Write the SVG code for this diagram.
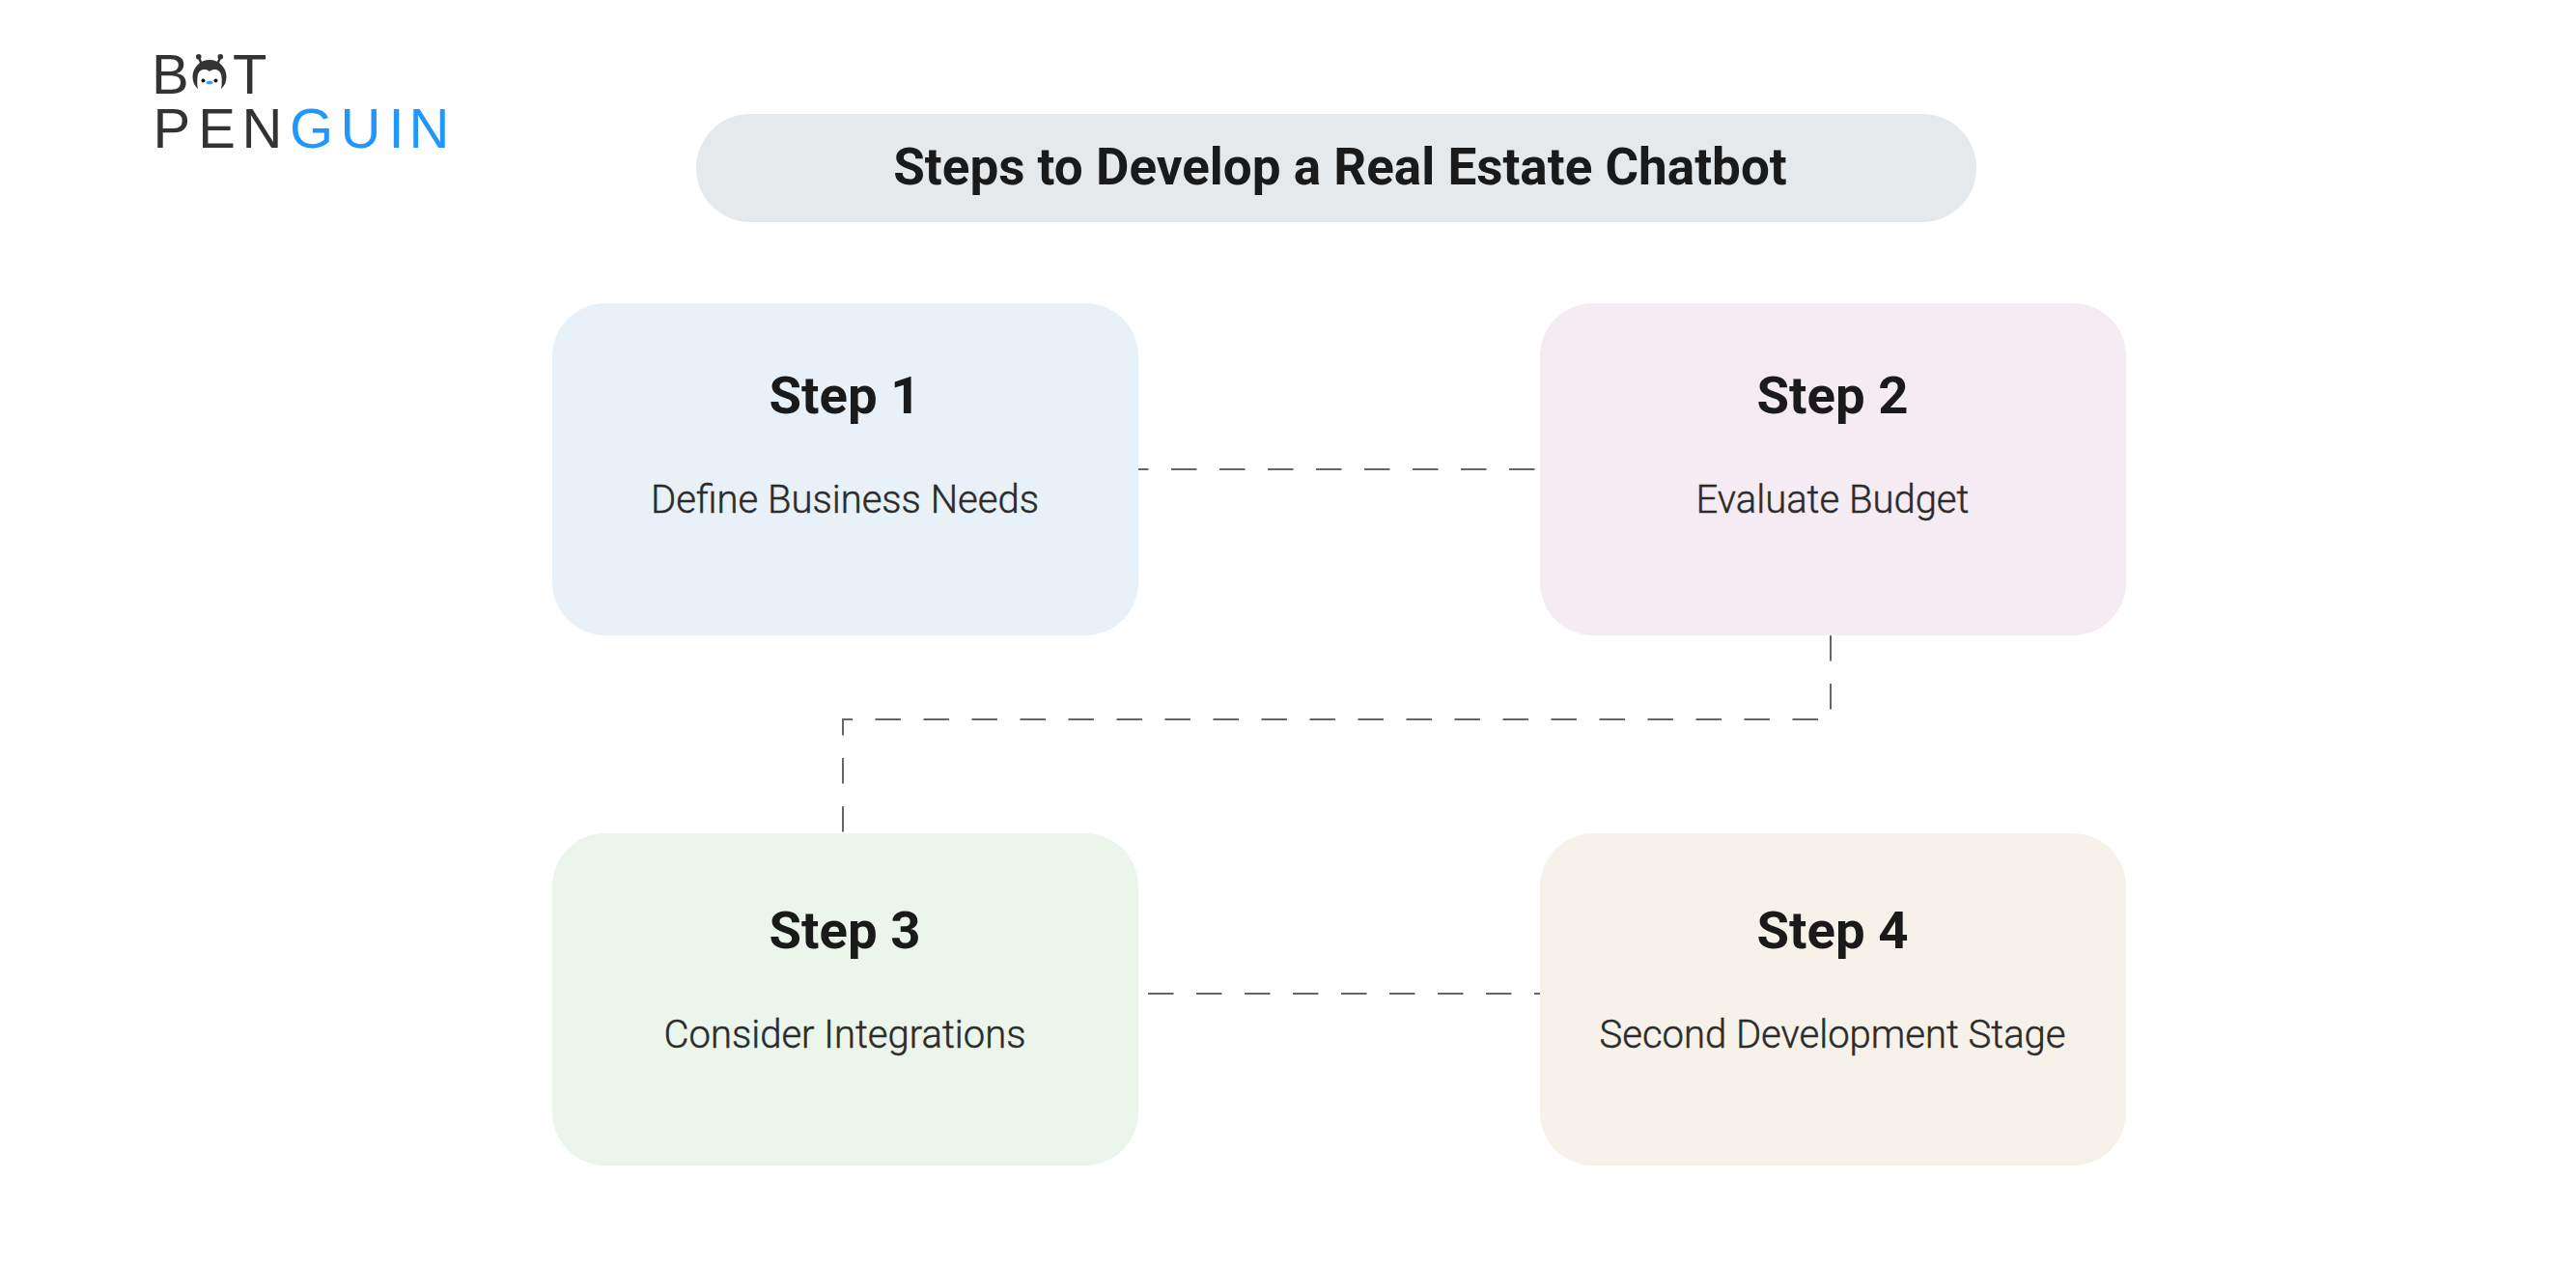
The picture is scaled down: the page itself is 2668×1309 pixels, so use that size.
<svg xmlns="http://www.w3.org/2000/svg" width="2668" height="1309" viewBox="0 0 2668 1309">
<style>
text { font-family: Roboto, "Liberation Sans", sans-serif; }
.head { font-size: 54.5px; font-weight: 700; fill: #1a1a1a; text-anchor: middle; }
.body { font-size: 40px; font-weight: 300; fill: #2b2b2b; stroke: #2b2b2b; stroke-width: 0.45; text-anchor: middle; }
.wire { fill: none; stroke: #666666; stroke-width: 2; stroke-dasharray: 26.5 23.5; }
.logo { font-family: "Liberation Sans", Arial, sans-serif; font-size: 58px; font-weight: 400; fill: #333333; }
.card { width: 607px; rx: 55px; ry: 55px; }
</style>
<rect width="2668" height="1309" fill="#ffffff"/>
<g id="logo">
  <text class="logo" x="157" y="97">B</text>
  <text class="logo" x="241" y="97">T</text>
  <text class="logo" y="153" x="158.4 205.3 250.5">PEN<tspan fill="#2196ff" x="300 352.4 402.5 423.5">GUIN</tspan></text>
  <g id="mascot">
    <path d="M209 67L205.7 58.7M225 67L228.3 58.7" stroke="#333333" stroke-width="2.4" fill="none"/>
    <circle cx="205.7" cy="58.7" r="2.8" fill="#333333"/>
    <circle cx="228.3" cy="58.7" r="2.8" fill="#333333"/>
    <circle cx="217" cy="79.5" r="17.5" fill="#333333"/>
    <path d="M217 74C212 70 205 72 204.5 80C204 86 204 93 208 99H226C230 93 230 86 229.5 80C229 72 222 70 217 74Z" fill="#ffffff"/>
    <circle cx="210.5" cy="83.5" r="2" fill="#111111"/>
    <circle cx="223.5" cy="83.5" r="2" fill="#111111"/>
    <ellipse cx="217" cy="85.5" rx="3.5" ry="1.8" fill="#3d9bf0"/>
  </g>
</g>
<g id="title">
  <rect x="721" y="118" width="1326" height="112" rx="56" fill="#e6e9ec"/>
  <text x="1388" y="191" text-anchor="middle" font-size="53" font-weight="700" fill="#1a1a1a">Steps to Develop a Real Estate Chatbot</text>
</g>
<g id="connectors">
  <path class="wire" d="M1179 486H1590" stroke-dashoffset="16"/>
  <path class="wire" d="M1896 658V745H873V862"/>
  <path class="wire" d="M1189 1029H1595"/>
</g>
<g id="step-1">
  <rect class="card" x="572" y="314" height="344" fill="#e8f1f8"/>
  <text class="head" x="875" y="428">Step 1</text>
  <text class="body" x="875" y="531">Define Business Needs</text>
</g>
<g id="step-2">
  <rect class="card" x="1595" y="314" height="344" fill="#f5ebf3"/>
  <text class="head" x="1898" y="428">Step 2</text>
  <text class="body" x="1898" y="531">Evaluate Budget</text>
</g>
<g id="step-3">
  <rect class="card" x="572" y="863" height="344" fill="#ebf5eb"/>
  <text class="head" x="875" y="982">Step 3</text>
  <text class="body" x="875" y="1085">Consider Integrations</text>
</g>
<g id="step-4">
  <rect class="card" x="1595" y="863" height="344" fill="#f6f2ea"/>
  <text class="head" x="1898" y="982">Step 4</text>
  <text class="body" x="1898" y="1085">Second Development Stage</text>
</g>
</svg>
